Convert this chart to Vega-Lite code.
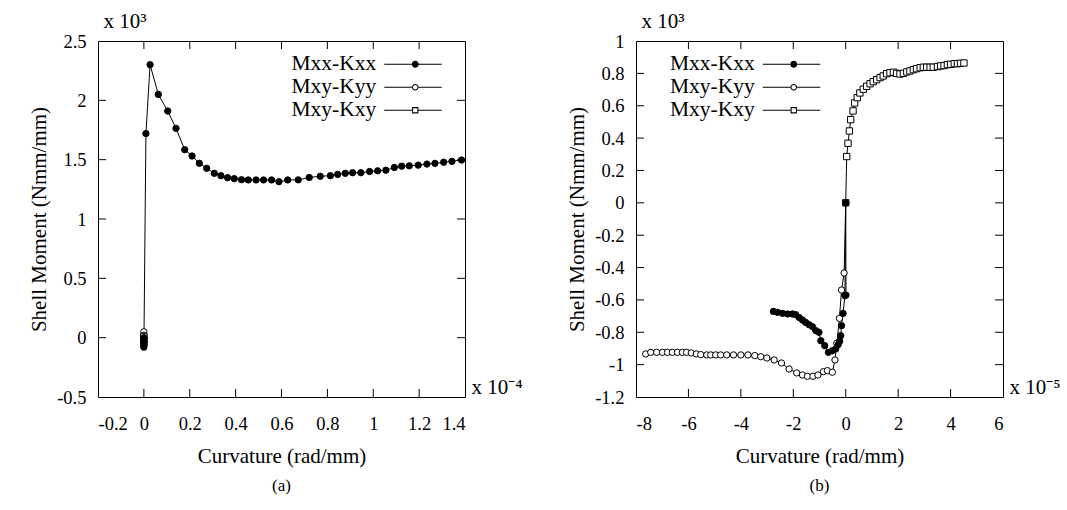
{
  "$schema": "https://vega.github.io/schema/vega-lite/v6.json",
  "padding": {"left": 27, "top": 9, "right": 5, "bottom": 5},
  "background": "white",
  "datasets": {
    "a": [
      {"x": 0, "y": -0.5, "t": "bot"}, {"x": 0.2, "y": -0.5, "t": "bot"}, {"x": 0.4, "y": -0.5, "t": "bot"}, {"x": 0.6, "y": -0.5, "t": "bot"}, {"x": 0.8, "y": -0.5, "t": "bot"}, {"x": 1, "y": -0.5, "t": "bot"}, {"x": 1.2, "y": -0.5, "t": "bot"},
      {"x": 0, "y": 2.5, "t": "top"}, {"x": 0.2, "y": 2.5, "t": "top"}, {"x": 0.4, "y": 2.5, "t": "top"}, {"x": 0.6, "y": 2.5, "t": "top"}, {"x": 0.8, "y": 2.5, "t": "top"}, {"x": 1, "y": 2.5, "t": "top"}, {"x": 1.2, "y": 2.5, "t": "top"},
      {"x": -0.2, "y": 0, "t": "left"}, {"x": -0.2, "y": 0.5, "t": "left"}, {"x": -0.2, "y": 1, "t": "left"}, {"x": -0.2, "y": 1.5, "t": "left"}, {"x": -0.2, "y": 2, "t": "left"},
      {"x": 1.4, "y": 0, "t": "right"}, {"x": 1.4, "y": 0.5, "t": "right"}, {"x": 1.4, "y": 1, "t": "right"}, {"x": 1.4, "y": 1.5, "t": "right"}, {"x": 1.4, "y": 2, "t": "right"},
      {"x": 0, "y": 0.05, "s": "Mxy-Kyy"},
      {"x": 0, "y": 0.02, "s": "Mxy-Kyy"},
      {"x": 0, "y": 0.0, "s": "Mxy-Kyy"},
      {"x": 0, "y": -0.03, "s": "Mxy-Kyy"},
      {"x": 0, "y": 0.01, "s": "Mxy-Kxy"},
      {"x": 0, "y": -0.02, "s": "Mxy-Kxy"},
      {"x": 0, "y": -0.05, "s": "Mxy-Kxy"},
      {"x": 0, "y": 0.0, "s": "Mxx-Kxx"},
      {"x": 0, "y": -0.02, "s": "Mxx-Kxx"},
      {"x": 0, "y": -0.04, "s": "Mxx-Kxx"},
      {"x": 0, "y": -0.06, "s": "Mxx-Kxx"},
      {"x": 0, "y": -0.08, "s": "Mxx-Kxx"},
      {"x": 0.009, "y": 1.72, "s": "Mxx-Kxx"},
      {"x": 0.027, "y": 2.30, "s": "Mxx-Kxx"},
      {"x": 0.063, "y": 2.05, "s": "Mxx-Kxx"},
      {"x": 0.104, "y": 1.91, "s": "Mxx-Kxx"},
      {"x": 0.140, "y": 1.764, "s": "Mxx-Kxx"},
      {"x": 0.178, "y": 1.584, "s": "Mxx-Kxx"},
      {"x": 0.210, "y": 1.531, "s": "Mxx-Kxx"},
      {"x": 0.242, "y": 1.469, "s": "Mxx-Kxx"},
      {"x": 0.274, "y": 1.427, "s": "Mxx-Kxx"},
      {"x": 0.307, "y": 1.385, "s": "Mxx-Kxx"},
      {"x": 0.336, "y": 1.365, "s": "Mxx-Kxx"},
      {"x": 0.365, "y": 1.348, "s": "Mxx-Kxx"},
      {"x": 0.394, "y": 1.340, "s": "Mxx-Kxx"},
      {"x": 0.426, "y": 1.331, "s": "Mxx-Kxx"},
      {"x": 0.455, "y": 1.329, "s": "Mxx-Kxx"},
      {"x": 0.489, "y": 1.329, "s": "Mxx-Kxx"},
      {"x": 0.522, "y": 1.329, "s": "Mxx-Kxx"},
      {"x": 0.557, "y": 1.329, "s": "Mxx-Kxx"},
      {"x": 0.589, "y": 1.314, "s": "Mxx-Kxx"},
      {"x": 0.627, "y": 1.329, "s": "Mxx-Kxx"},
      {"x": 0.673, "y": 1.330, "s": "Mxx-Kxx"},
      {"x": 0.721, "y": 1.350, "s": "Mxx-Kxx"},
      {"x": 0.769, "y": 1.360, "s": "Mxx-Kxx"},
      {"x": 0.813, "y": 1.365, "s": "Mxx-Kxx"},
      {"x": 0.845, "y": 1.376, "s": "Mxx-Kxx"},
      {"x": 0.878, "y": 1.385, "s": "Mxx-Kxx"},
      {"x": 0.910, "y": 1.390, "s": "Mxx-Kxx"},
      {"x": 0.946, "y": 1.390, "s": "Mxx-Kxx"},
      {"x": 0.984, "y": 1.400, "s": "Mxx-Kxx"},
      {"x": 1.019, "y": 1.406, "s": "Mxx-Kxx"},
      {"x": 1.055, "y": 1.411, "s": "Mxx-Kxx"},
      {"x": 1.092, "y": 1.434, "s": "Mxx-Kxx"},
      {"x": 1.124, "y": 1.445, "s": "Mxx-Kxx"},
      {"x": 1.157, "y": 1.448, "s": "Mxx-Kxx"},
      {"x": 1.196, "y": 1.454, "s": "Mxx-Kxx"},
      {"x": 1.234, "y": 1.463, "s": "Mxx-Kxx"},
      {"x": 1.269, "y": 1.469, "s": "Mxx-Kxx"},
      {"x": 1.307, "y": 1.478, "s": "Mxx-Kxx"},
      {"x": 1.343, "y": 1.486, "s": "Mxx-Kxx"},
      {"x": 1.385, "y": 1.497, "s": "Mxx-Kxx"}
    ],
    "b": [
      {"x": -6, "y": -1.2, "t": "bot"}, {"x": -4, "y": -1.2, "t": "bot"}, {"x": -2, "y": -1.2, "t": "bot"}, {"x": 0, "y": -1.2, "t": "bot"}, {"x": 2, "y": -1.2, "t": "bot"}, {"x": 4, "y": -1.2, "t": "bot"},
      {"x": -6, "y": 1, "t": "top"}, {"x": -4, "y": 1, "t": "top"}, {"x": -2, "y": 1, "t": "top"}, {"x": 0, "y": 1, "t": "top"}, {"x": 2, "y": 1, "t": "top"}, {"x": 4, "y": 1, "t": "top"},
      {"x": -8, "y": -1, "t": "left"}, {"x": -8, "y": -0.8, "t": "left"}, {"x": -8, "y": -0.6, "t": "left"}, {"x": -8, "y": -0.4, "t": "left"}, {"x": -8, "y": -0.2, "t": "left"}, {"x": -8, "y": 0, "t": "left"}, {"x": -8, "y": 0.2, "t": "left"}, {"x": -8, "y": 0.4, "t": "left"}, {"x": -8, "y": 0.6, "t": "left"}, {"x": -8, "y": 0.8, "t": "left"},
      {"x": 6, "y": -1, "t": "right"}, {"x": 6, "y": -0.8, "t": "right"}, {"x": 6, "y": -0.6, "t": "right"}, {"x": 6, "y": -0.4, "t": "right"}, {"x": 6, "y": -0.2, "t": "right"}, {"x": 6, "y": 0, "t": "right"}, {"x": 6, "y": 0.2, "t": "right"}, {"x": 6, "y": 0.4, "t": "right"}, {"x": 6, "y": 0.6, "t": "right"}, {"x": 6, "y": 0.8, "t": "right"},
      {"x": 0, "y": 0, "s": "Mxy-Kxy"},
      {"x": 0.038, "y": 0.286, "s": "Mxy-Kxy"},
      {"x": 0.088, "y": 0.368, "s": "Mxy-Kxy"},
      {"x": 0.14, "y": 0.444, "s": "Mxy-Kxy"},
      {"x": 0.19, "y": 0.514, "s": "Mxy-Kxy"},
      {"x": 0.28, "y": 0.568, "s": "Mxy-Kxy"},
      {"x": 0.34, "y": 0.617, "s": "Mxy-Kxy"},
      {"x": 0.44, "y": 0.65, "s": "Mxy-Kxy"},
      {"x": 0.54, "y": 0.679, "s": "Mxy-Kxy"},
      {"x": 0.67, "y": 0.702, "s": "Mxy-Kxy"},
      {"x": 0.80, "y": 0.72, "s": "Mxy-Kxy"},
      {"x": 0.93, "y": 0.736, "s": "Mxy-Kxy"},
      {"x": 1.05, "y": 0.749, "s": "Mxy-Kxy"},
      {"x": 1.18, "y": 0.761, "s": "Mxy-Kxy"},
      {"x": 1.31, "y": 0.774, "s": "Mxy-Kxy"},
      {"x": 1.43, "y": 0.784, "s": "Mxy-Kxy"},
      {"x": 1.56, "y": 0.798, "s": "Mxy-Kxy"},
      {"x": 1.69, "y": 0.804, "s": "Mxy-Kxy"},
      {"x": 1.82, "y": 0.807, "s": "Mxy-Kxy"},
      {"x": 1.94, "y": 0.80, "s": "Mxy-Kxy"},
      {"x": 2.07, "y": 0.796, "s": "Mxy-Kxy"},
      {"x": 2.20, "y": 0.80, "s": "Mxy-Kxy"},
      {"x": 2.33, "y": 0.809, "s": "Mxy-Kxy"},
      {"x": 2.45, "y": 0.815, "s": "Mxy-Kxy"},
      {"x": 2.58, "y": 0.823, "s": "Mxy-Kxy"},
      {"x": 2.70, "y": 0.829, "s": "Mxy-Kxy"},
      {"x": 2.84, "y": 0.835, "s": "Mxy-Kxy"},
      {"x": 2.96, "y": 0.838, "s": "Mxy-Kxy"},
      {"x": 3.09, "y": 0.838, "s": "Mxy-Kxy"},
      {"x": 3.22, "y": 0.838, "s": "Mxy-Kxy"},
      {"x": 3.34, "y": 0.838, "s": "Mxy-Kxy"},
      {"x": 3.50, "y": 0.842, "s": "Mxy-Kxy"},
      {"x": 3.62, "y": 0.846, "s": "Mxy-Kxy"},
      {"x": 3.75, "y": 0.848, "s": "Mxy-Kxy"},
      {"x": 3.88, "y": 0.854, "s": "Mxy-Kxy"},
      {"x": 4.00, "y": 0.856, "s": "Mxy-Kxy"},
      {"x": 4.14, "y": 0.86, "s": "Mxy-Kxy"},
      {"x": 4.26, "y": 0.86, "s": "Mxy-Kxy"},
      {"x": 4.38, "y": 0.862, "s": "Mxy-Kxy"},
      {"x": 4.51, "y": 0.864, "s": "Mxy-Kxy"},
      {"x": -7.63, "y": -0.934, "s": "Mxy-Kyy"},
      {"x": -7.44, "y": -0.924, "s": "Mxy-Kyy"},
      {"x": -7.21, "y": -0.924, "s": "Mxy-Kyy"},
      {"x": -6.99, "y": -0.924, "s": "Mxy-Kyy"},
      {"x": -6.80, "y": -0.924, "s": "Mxy-Kyy"},
      {"x": -6.61, "y": -0.924, "s": "Mxy-Kyy"},
      {"x": -6.42, "y": -0.924, "s": "Mxy-Kyy"},
      {"x": -6.23, "y": -0.924, "s": "Mxy-Kyy"},
      {"x": -6.07, "y": -0.924, "s": "Mxy-Kyy"},
      {"x": -5.89, "y": -0.928, "s": "Mxy-Kyy"},
      {"x": -5.70, "y": -0.934, "s": "Mxy-Kyy"},
      {"x": -5.53, "y": -0.938, "s": "Mxy-Kyy"},
      {"x": -5.30, "y": -0.940, "s": "Mxy-Kyy"},
      {"x": -5.15, "y": -0.940, "s": "Mxy-Kyy"},
      {"x": -4.96, "y": -0.940, "s": "Mxy-Kyy"},
      {"x": -4.77, "y": -0.940, "s": "Mxy-Kyy"},
      {"x": -4.54, "y": -0.940, "s": "Mxy-Kyy"},
      {"x": -4.28, "y": -0.940, "s": "Mxy-Kyy"},
      {"x": -4.00, "y": -0.940, "s": "Mxy-Kyy"},
      {"x": -3.73, "y": -0.940, "s": "Mxy-Kyy"},
      {"x": -3.47, "y": -0.944, "s": "Mxy-Kyy"},
      {"x": -3.24, "y": -0.951, "s": "Mxy-Kyy"},
      {"x": -3.01, "y": -0.959, "s": "Mxy-Kyy"},
      {"x": -2.73, "y": -0.971, "s": "Mxy-Kyy"},
      {"x": -2.45, "y": -0.990, "s": "Mxy-Kyy"},
      {"x": -2.16, "y": -1.027, "s": "Mxy-Kyy"},
      {"x": -1.87, "y": -1.051, "s": "Mxy-Kyy"},
      {"x": -1.65, "y": -1.064, "s": "Mxy-Kyy"},
      {"x": -1.46, "y": -1.072, "s": "Mxy-Kyy"},
      {"x": -1.25, "y": -1.072, "s": "Mxy-Kyy"},
      {"x": -1.06, "y": -1.064, "s": "Mxy-Kyy"},
      {"x": -0.85, "y": -1.043, "s": "Mxy-Kyy"},
      {"x": -0.70, "y": -1.037, "s": "Mxy-Kyy"},
      {"x": -0.51, "y": -1.047, "s": "Mxy-Kyy"},
      {"x": -0.41, "y": -0.971, "s": "Mxy-Kyy"},
      {"x": -0.34, "y": -0.868, "s": "Mxy-Kyy"},
      {"x": -0.24, "y": -0.714, "s": "Mxy-Kyy"},
      {"x": -0.16, "y": -0.539, "s": "Mxy-Kyy"},
      {"x": -0.06, "y": -0.434, "s": "Mxy-Kyy"},
      {"x": 0, "y": 0, "s": "Mxy-Kyy"},
      {"x": -2.76, "y": -0.671, "s": "Mxx-Kxx"},
      {"x": -2.60, "y": -0.677, "s": "Mxx-Kxx"},
      {"x": -2.41, "y": -0.683, "s": "Mxx-Kxx"},
      {"x": -2.22, "y": -0.687, "s": "Mxx-Kxx"},
      {"x": -2.03, "y": -0.687, "s": "Mxx-Kxx"},
      {"x": -1.91, "y": -0.691, "s": "Mxx-Kxx"},
      {"x": -1.78, "y": -0.708, "s": "Mxx-Kxx"},
      {"x": -1.65, "y": -0.724, "s": "Mxx-Kxx"},
      {"x": -1.53, "y": -0.739, "s": "Mxx-Kxx"},
      {"x": -1.40, "y": -0.753, "s": "Mxx-Kxx"},
      {"x": -1.27, "y": -0.765, "s": "Mxx-Kxx"},
      {"x": -1.14, "y": -0.790, "s": "Mxx-Kxx"},
      {"x": -1.02, "y": -0.800, "s": "Mxx-Kxx"},
      {"x": -0.95, "y": -0.852, "s": "Mxx-Kxx"},
      {"x": -0.80, "y": -0.883, "s": "Mxx-Kxx"},
      {"x": -0.66, "y": -0.924, "s": "Mxx-Kxx"},
      {"x": -0.51, "y": -0.914, "s": "Mxx-Kxx"},
      {"x": -0.38, "y": -0.903, "s": "Mxx-Kxx"},
      {"x": -0.29, "y": -0.877, "s": "Mxx-Kxx"},
      {"x": -0.23, "y": -0.856, "s": "Mxx-Kxx"},
      {"x": -0.19, "y": -0.821, "s": "Mxx-Kxx"},
      {"x": -0.16, "y": -0.759, "s": "Mxx-Kxx"},
      {"x": -0.10, "y": -0.683, "s": "Mxx-Kxx"},
      {"x": -0.03, "y": -0.574, "s": "Mxx-Kxx"},
      {"x": 0.01, "y": -0.570, "s": "Mxx-Kxx"},
      {"x": 0, "y": 0, "s": "Mxx-Kxx"}
    ]
  },
  "config": {
    "font": "Liberation Serif",
    "view": {"stroke": "black", "strokeWidth": 1},
    "axis": {
      "grid": false, "domain": false, "ticks": true, "tickOpacity": 0, "labelColor": "black", "titleColor": "black",
      "labelFont": "Liberation Serif", "titleFont": "Liberation Serif", "labelFontSize": 18.5, "titleFontSize": 21,
      "titleFontWeight": "normal", "tickSize": 8, "tickWidth": 1
    },
    "legend": {
      "labelFont": "Liberation Serif", "labelFontSize": 21.5, "labelColor": "black", "labelLimit": 0,
      "padding": 0, "offset": 0, "rowPadding": 0, "symbolSize": 49, "symbolStrokeWidth": 0,
      "symbolStrokeColor": "transparent"
    },
    "title": {"font": "Liberation Serif", "fontSize": 17, "fontWeight": "normal", "color": "black"}
  },
  "spacing": 171,
  "bounds": "flush",
  "resolve": {"scale": {"fill": "independent", "shape": "independent"}, "legend": {"fill": "independent", "shape": "independent"}},
  "hconcat": [
    {
      "width": 367, "height": 356,
      "title": {"text": "(a)", "orient": "bottom", "offset": 12},
      "data": {"name": "a"},
      "resolve": {"scale": {"fill": "independent", "shape": "independent"}},
      "layer": [
        {
          "transform": [{"filter": "datum.t == null"}],
          "mark": {"type": "line", "color": "black", "strokeWidth": 1},
          "encoding": {
            "x": {"field": "x", "type": "quantitative", "scale": {"domain": [-0.2, 1.4], "nice": false, "zero": false},
              "axis": {"orient": "bottom", "offset": -8, "values": [-0.2, 0, 0.2, 0.4, 0.6, 0.8, 1, 1.2, 1.4], "labelExpr": "replace(format(datum.value, '.1~f'), '\u2212', '-')", "labelPadding": 17, "title": "Curvature (rad/mm)", "titleY": 73, "titleBaseline": "alphabetic"}},
            "y": {"field": "y", "type": "quantitative", "scale": {"domain": [-0.5, 2.5], "nice": false, "zero": false},
              "axis": {"orient": "left", "offset": -8, "values": [-0.5, 0, 0.5, 1, 1.5, 2, 2.5], "labelExpr": "replace(format(datum.value, '.1~f'), '\u2212', '-')", "labelPadding": 12, "title": "Shell Moment (Nmm/mm)", "titleX": -67, "titleY": 178, "titleBaseline": "middle"}},
            "detail": {"field": "s", "type": "nominal"}
          }
        },
        {
          "transform": [{"filter": "datum.t == 'bot'"}],
          "mark": {"type": "point", "shape": "M-0.0625,0V-1H0.0625V0Z", "size": 256, "filled": true, "color": "black", "strokeWidth": 0, "opacity": 1},
          "encoding": {
            "x": {"field": "x", "type": "quantitative", "scale": {"domain": [-0.2, 1.4], "nice": false, "zero": false}, "axis": null},
            "y": {"field": "y", "type": "quantitative", "scale": {"domain": [-0.5, 2.5], "nice": false, "zero": false}, "axis": null}
          }
        },
        {
          "transform": [{"filter": "datum.t == 'top'"}],
          "mark": {"type": "point", "shape": "M-0.0625,0V1H0.0625V0Z", "size": 256, "filled": true, "color": "black", "strokeWidth": 0, "opacity": 1},
          "encoding": {
            "x": {"field": "x", "type": "quantitative", "scale": {"domain": [-0.2, 1.4], "nice": false, "zero": false}, "axis": null},
            "y": {"field": "y", "type": "quantitative", "scale": {"domain": [-0.5, 2.5], "nice": false, "zero": false}, "axis": null}
          }
        },
        {
          "transform": [{"filter": "datum.t == 'left'"}],
          "mark": {"type": "point", "shape": "M0,-0.0625H1V0.0625H0Z", "size": 256, "filled": true, "color": "black", "strokeWidth": 0, "opacity": 1},
          "encoding": {
            "x": {"field": "x", "type": "quantitative", "scale": {"domain": [-0.2, 1.4], "nice": false, "zero": false}, "axis": null},
            "y": {"field": "y", "type": "quantitative", "scale": {"domain": [-0.5, 2.5], "nice": false, "zero": false}, "axis": null}
          }
        },
        {
          "transform": [{"filter": "datum.t == 'right'"}],
          "mark": {"type": "point", "shape": "M0,-0.0625H-1V0.0625H0Z", "size": 256, "filled": true, "color": "black", "strokeWidth": 0, "opacity": 1},
          "encoding": {
            "x": {"field": "x", "type": "quantitative", "scale": {"domain": [-0.2, 1.4], "nice": false, "zero": false}, "axis": null},
            "y": {"field": "y", "type": "quantitative", "scale": {"domain": [-0.5, 2.5], "nice": false, "zero": false}, "axis": null}
          }
        },
        {
          "transform": [{"filter": "datum.t == null"}],
          "mark": {"type": "point", "filled": true, "stroke": "black", "strokeWidth": 1, "size": 40, "opacity": 1},
          "encoding": {
            "x": {"field": "x", "type": "quantitative", "scale": {"domain": [-0.2, 1.4], "nice": false, "zero": false},
              "axis": {"orient": "top", "offset": -8, "values": [-0.2, 0, 0.2, 0.4, 0.6, 0.8, 1, 1.2, 1.4], "labels": false, "title": "x 10³", "titleAnchor": "start", "titleAlign": "left", "titleX": 5, "titleY": -22, "titleBaseline": "alphabetic"}},
            "y": {"field": "y", "type": "quantitative", "scale": {"domain": [-0.5, 2.5], "nice": false, "zero": false},
              "axis": {"orient": "right", "offset": -8, "values": [-0.5, 0, 0.5, 1, 1.5, 2, 2.5], "labels": false, "title": "x 10⁻⁴", "titleAngle": 0, "titleAlign": "left", "titleX": 14, "titleY": 352, "titleBaseline": "alphabetic"}},
            "shape": {"field": "s", "type": "nominal", "scale": {"domain": ["Mxx-Kxx", "Mxy-Kyy", "Mxy-Kxy"], "range": ["circle", "circle", "square"]}, "legend": null},
            "fill": {"field": "s", "type": "nominal", "scale": {"domain": ["Mxx-Kxx", "Mxy-Kyy", "Mxy-Kxy"], "range": ["black", "white", "white"]}, "legend": null}
          }
        },
        {
          "transform": [{"filter": "false"}],
          "mark": {"type": "point", "filled": true, "color": "black", "strokeWidth": 0, "opacity": 1},
          "encoding": {
            "shape": {"field": "s", "type": "nominal", "scale": {"domain": ["Mxx-Kxx", "Mxy-Kyy", "Mxy-Kxy"], "range": [
              "M30.71,-0.15H38.57V0.15H30.71Z M40.57,-0.15H47.14V0.15H40.57Z M40.57,0A1,1,0,1,1,38.57,0A1,1,0,1,1,40.57,0Z",
              "M30.71,-0.15H38.62V0.15H30.71Z M40.52,-0.15H47.14V0.15H40.52Z M40.52,0A0.95,0.95,0,1,1,38.62,0A0.95,0.95,0,1,1,40.52,0Z M40.22,0A0.65,0.65,0,1,0,38.92,0A0.65,0.65,0,1,0,40.22,0Z",
              "M30.71,-0.15H38.67V0.15H30.71Z M40.47,-0.15H47.14V0.15H40.47Z M38.67,-0.9H40.47V0.9H38.67Z M38.97,-0.6V0.6H40.17V-0.6Z"]},
              "legend": {"orient": "none", "legendX": 168, "legendY": 12.5, "title": null}}
          }
        }
      ]
    },
    {
      "width": 367, "height": 356,
      "title": {"text": "(b)", "orient": "bottom", "offset": 12},
      "data": {"name": "b"},
      "resolve": {"scale": {"fill": "independent", "shape": "independent"}},
      "layer": [
        {
          "transform": [{"filter": "datum.t == null"}],
          "mark": {"type": "line", "color": "black", "strokeWidth": 1},
          "encoding": {
            "x": {"field": "x", "type": "quantitative", "scale": {"domain": [-8, 6], "nice": false, "zero": false},
              "axis": {"orient": "bottom", "offset": -8, "values": [-8, -6, -4, -2, 0, 2, 4, 6], "labelExpr": "replace(format(datum.value, '.1~f'), '\u2212', '-')", "labelPadding": 17, "title": "Curvature (rad/mm)", "titleY": 73, "titleBaseline": "alphabetic"}},
            "y": {"field": "y", "type": "quantitative", "scale": {"domain": [-1.2, 1], "nice": false, "zero": false},
              "axis": {"orient": "left", "offset": -8, "values": [-1.2, -1, -0.8, -0.6, -0.4, -0.2, 0, 0.2, 0.4, 0.6, 0.8, 1], "labelExpr": "replace(format(datum.value, '.1~f'), '\u2212', '-')", "labelPadding": 12, "title": "Shell Moment (Nmm/mm)", "titleX": -67, "titleY": 178, "titleBaseline": "middle"}},
            "detail": {"field": "s", "type": "nominal"}
          }
        },
        {
          "transform": [{"filter": "datum.t == 'bot'"}],
          "mark": {"type": "point", "shape": "M-0.0625,0V-1H0.0625V0Z", "size": 256, "filled": true, "color": "black", "strokeWidth": 0, "opacity": 1},
          "encoding": {
            "x": {"field": "x", "type": "quantitative", "scale": {"domain": [-8, 6], "nice": false, "zero": false}, "axis": null},
            "y": {"field": "y", "type": "quantitative", "scale": {"domain": [-1.2, 1], "nice": false, "zero": false}, "axis": null}
          }
        },
        {
          "transform": [{"filter": "datum.t == 'top'"}],
          "mark": {"type": "point", "shape": "M-0.0625,0V1H0.0625V0Z", "size": 256, "filled": true, "color": "black", "strokeWidth": 0, "opacity": 1},
          "encoding": {
            "x": {"field": "x", "type": "quantitative", "scale": {"domain": [-8, 6], "nice": false, "zero": false}, "axis": null},
            "y": {"field": "y", "type": "quantitative", "scale": {"domain": [-1.2, 1], "nice": false, "zero": false}, "axis": null}
          }
        },
        {
          "transform": [{"filter": "datum.t == 'left'"}],
          "mark": {"type": "point", "shape": "M0,-0.0625H1V0.0625H0Z", "size": 256, "filled": true, "color": "black", "strokeWidth": 0, "opacity": 1},
          "encoding": {
            "x": {"field": "x", "type": "quantitative", "scale": {"domain": [-8, 6], "nice": false, "zero": false}, "axis": null},
            "y": {"field": "y", "type": "quantitative", "scale": {"domain": [-1.2, 1], "nice": false, "zero": false}, "axis": null}
          }
        },
        {
          "transform": [{"filter": "datum.t == 'right'"}],
          "mark": {"type": "point", "shape": "M0,-0.0625H-1V0.0625H0Z", "size": 256, "filled": true, "color": "black", "strokeWidth": 0, "opacity": 1},
          "encoding": {
            "x": {"field": "x", "type": "quantitative", "scale": {"domain": [-8, 6], "nice": false, "zero": false}, "axis": null},
            "y": {"field": "y", "type": "quantitative", "scale": {"domain": [-1.2, 1], "nice": false, "zero": false}, "axis": null}
          }
        },
        {
          "transform": [{"filter": "datum.t == null"}],
          "mark": {"type": "point", "filled": true, "stroke": "black", "strokeWidth": 1, "size": 40, "opacity": 1},
          "encoding": {
            "x": {"field": "x", "type": "quantitative", "scale": {"domain": [-8, 6], "nice": false, "zero": false},
              "axis": {"orient": "top", "offset": -8, "values": [-8, -6, -4, -2, 0, 2, 4, 6], "labels": false, "title": "x 10³", "titleAnchor": "start", "titleAlign": "left", "titleX": 5, "titleY": -22, "titleBaseline": "alphabetic"}},
            "y": {"field": "y", "type": "quantitative", "scale": {"domain": [-1.2, 1], "nice": false, "zero": false},
              "axis": {"orient": "right", "offset": -8, "values": [-1.2, -1, -0.8, -0.6, -0.4, -0.2, 0, 0.2, 0.4, 0.6, 0.8, 1], "labels": false, "title": "x 10⁻⁵", "titleAngle": 0, "titleAlign": "left", "titleX": 14, "titleY": 352, "titleBaseline": "alphabetic"}},
            "shape": {"field": "s", "type": "nominal", "scale": {"domain": ["Mxx-Kxx", "Mxy-Kyy", "Mxy-Kxy"], "range": ["circle", "circle", "square"]}, "legend": null},
            "fill": {"field": "s", "type": "nominal", "scale": {"domain": ["Mxx-Kxx", "Mxy-Kyy", "Mxy-Kxy"], "range": ["black", "white", "white"]}, "legend": null}
          }
        },
        {
          "transform": [{"filter": "false"}],
          "mark": {"type": "point", "filled": true, "color": "black", "strokeWidth": 0, "opacity": 1},
          "encoding": {
            "shape": {"field": "s", "type": "nominal", "scale": {"domain": ["Mxx-Kxx", "Mxy-Kyy", "Mxy-Kxy"], "range": [
              "M30.71,-0.15H38.57V0.15H30.71Z M40.57,-0.15H47.14V0.15H40.57Z M40.57,0A1,1,0,1,1,38.57,0A1,1,0,1,1,40.57,0Z",
              "M30.71,-0.15H38.62V0.15H30.71Z M40.52,-0.15H47.14V0.15H40.52Z M40.52,0A0.95,0.95,0,1,1,38.62,0A0.95,0.95,0,1,1,40.52,0Z M40.22,0A0.65,0.65,0,1,0,38.92,0A0.65,0.65,0,1,0,40.22,0Z",
              "M30.71,-0.15H38.67V0.15H30.71Z M40.47,-0.15H47.14V0.15H40.47Z M38.67,-0.9H40.47V0.9H38.67Z M38.97,-0.6V0.6H40.17V-0.6Z"]},
              "legend": {"orient": "none", "legendX": 8.5, "legendY": 12.5, "title": null}}
          }
        }
      ]
    }
  ]
}
